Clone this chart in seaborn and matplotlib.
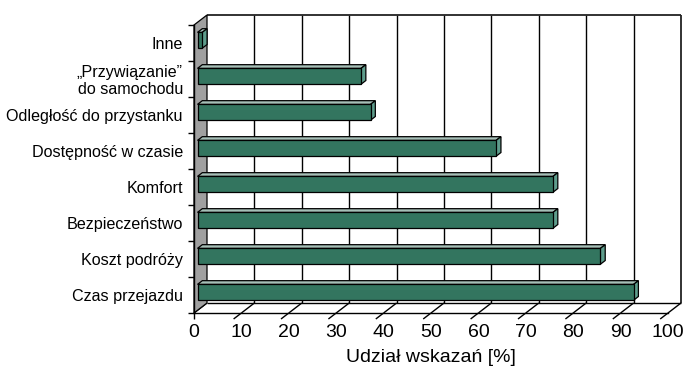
import numpy as np
import pandas as pd
import matplotlib
matplotlib.use("Agg")
import matplotlib.pyplot as plt
import seaborn as sns
from matplotlib.patches import Polygon
from matplotlib.lines import Line2D

# Survey answers: reasons for choosing the means of transport
categories = [
    "Inne",
    "„Przywiązanie”\ndo samochodu",
    "Odległość do przystanku",
    "Dostępność w czasie",
    "Komfort",
    "Bezpieczeństwo",
    "Koszt podróży",
    "Czas przejazdu",
]
shares = [1, 34.5, 36.5, 63, 75, 75, 85, 92]
x_ticks = list(range(0, 101, 10))
x_label = "Udział wskazań [%]"

FRONT = "#33755F"
TOP = "#A6BFB7"
SIDE = "#5E9D8C"
WALL = "#A0A0A0"

sns.set_theme(style="ticks")
plt.rcParams["font.family"] = ["Liberation Sans", "DejaVu Sans"]

fig = plt.figure(figsize=(6.85, 3.67), dpi=100)
ax = fig.add_axes([194 / 685, 54 / 367, 474 / 685, 288 / 367])
ax.set_facecolor("none")

df = pd.DataFrame({"cat": categories, "share": shares})
sns.barplot(data=df, x="share", y="cat", orient="h", color=FRONT,
            saturation=1, width=0.44, edgecolor="black", linewidth=0.9,
            ax=ax, zorder=5)

ax.set_xlim(0, 100)
ax.set_ylim(7.5, -0.5)
n = len(categories)
y_lo, y_hi = n - 0.5, -0.5

# depth of the 3-D box, expressed in data units (13 px right, 10 px up)
DX = 13 / 474 * 100
DY = 10 / 288 * n


def P(x, y, d):
    return (x + d * DX, y - d * DY)


def seg(p, q, lw=1.0, color="black", z=1):
    ax.add_line(Line2D([p[0], q[0]], [p[1], q[1]], color=color, lw=lw,
                       zorder=z, clip_on=False, solid_capstyle="butt"))


# left wall
ax.add_patch(Polygon([P(0, y_lo, 0), P(0, y_hi, 0), P(0, y_hi, 1), P(0, y_lo, 1)],
                     closed=True, fc=WALL, ec="black", lw=0.9, zorder=1,
                     clip_on=False))

# back wall gridlines and frame
for xv in x_ticks[1:-1]:
    seg(P(xv, y_lo, 1), P(xv, y_hi, 1), lw=1.0, z=0.5)
seg(P(0, y_hi, 1), P(100, y_hi, 1), lw=1.3, color="#222222", z=0.6)
seg(P(100, y_hi, 1), P(100, y_lo, 1), lw=1.3, color="#222222", z=0.6)

# floor
seg(P(0, y_lo, 1), P(100, y_lo, 1), lw=1.0, z=0.6)
for xv in x_ticks:
    seg(P(xv, y_lo, 0), P(xv, y_lo, 1), lw=1.0, z=0.6)
    if xv == 0:
        seg((0, y_lo), (0, y_lo + 6 / 36), lw=1.0, z=0.6)
    else:
        seg(P(xv, y_lo, 0), P(xv, y_lo, -0.6), lw=1.0, z=0.6)

# bars: shift the front faces into the box and add top and side faces
D0, D1 = 0.27, 0.64
for p in list(ax.patches):
    if isinstance(p, Polygon):
        continue
    x0, y0, w, h = p.get_x(), p.get_y(), p.get_width(), p.get_height()
    x1 = x0 + w
    p.set_x(x0 + D0 * DX)
    p.set_y(y0 - D0 * DY)
    ax.add_patch(Polygon([P(x0, y0, D0), P(x1, y0, D0), P(x1, y0, D1), P(x0, y0, D1)],
                         closed=True, fc=TOP, ec="black", lw=0.9, zorder=4))
    ax.add_patch(Polygon([P(x1, y0, D0), P(x1, y0 + h, D0), P(x1, y0 + h, D1), P(x1, y0, D1)],
                         closed=True, fc=SIDE, ec="black", lw=0.9, zorder=4))

# axes styling
for side in ("top", "right"):
    ax.spines[side].set_visible(False)
for side in ("left", "bottom"):
    ax.spines[side].set_color("black")
    ax.spines[side].set_linewidth(1.0)
    ax.spines[side].set_zorder(2)

ax.set_xticks(x_ticks)
ax.set_xticklabels([str(v) for v in x_ticks])
ax.tick_params(axis="x", length=0, pad=8, labelsize=14, colors="black")
ax.set_yticks(range(n))
ax.set_yticklabels(categories)
ax.set_yticks(np.arange(-0.5, n, 1), minor=True)
ax.tick_params(axis="y", which="major", length=0, pad=8, labelsize=11.6,
               colors="black")
ax.tick_params(axis="y", which="minor", length=4.5, width=1.0, color="black",
               left=True)
for lab in ax.get_yticklabels():
    lab.set_linespacing(1.15)
ax.set_ylabel("")
ax.set_xlabel(x_label, fontsize=14, labelpad=6, color="black")

fig.savefig("out.png", dpi=100, facecolor="white")
